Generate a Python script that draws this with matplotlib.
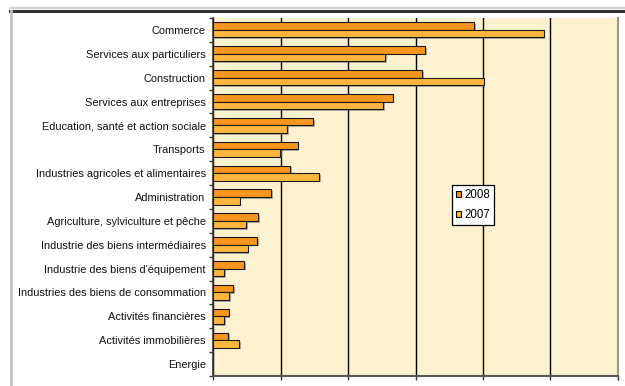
import matplotlib
matplotlib.use("Agg")
import matplotlib.pyplot as plt
import matplotlib.patheffects as pe
from matplotlib.lines import Line2D
import numpy as np

plt.rcParams['font.family'] = ['Liberation Sans', 'DejaVu Sans']

categories = [
    "Commerce",
    "Services aux particuliers",
    "Construction",
    "Services aux entreprises",
    "Education, santé et action sociale",
    "Transports",
    "Industries agricoles et alimentaires",
    "Administration",
    "Agriculture, sylviculture et pêche",
    "Industrie des biens intermédiaires",
    "Industrie des biens d'équipement",
    "Industries des biens de consommation",
    "Activités financières",
    "Activités immobilières",
    "Energie",
]
values_2008 = [3.87, 3.14, 3.10, 2.66, 1.48, 1.25, 1.14, 0.86, 0.67, 0.65, 0.46, 0.29, 0.23, 0.22, 0.0]
values_2007 = [4.90, 2.55, 4.01, 2.52, 1.10, 0.99, 1.57, 0.39, 0.49, 0.51, 0.16, 0.24, 0.16, 0.38, 0.0]
series_labels = ["2008", "2007"]
x_grid = [0, 1, 2, 3, 4, 5, 6]

color_2008 = "#F7961E"
color_2007 = "#FDB73F"
plot_bg = "#FDF2CF"

W, H = 625, 386
fig = plt.figure(figsize=(W / 100, H / 100), dpi=100)
fig.patch.set_facecolor("white")

# outer frame of the chart block
fig.add_artist(Line2D([10 / W, 1], [1 - 7.5 / H] * 2, color="#d0d0d0", lw=1.5))
fig.add_artist(Line2D([10 / W, 1], [1 - 10.8 / H] * 2, color="#333333", lw=2.2))
fig.add_artist(Line2D([10.5 / W] * 2, [0, 1 - 10.8 / H], color="#c4c4c4", lw=2.0))

ax = fig.add_axes([213.3 / W, 1 - 376 / H, (617.7 - 213.3) / W, (376 - 18) / H])
ax.set_facecolor(plot_bg)

n = len(categories)
y = np.arange(n)
bh = 0.315
shadow = [pe.SimplePatchShadow(offset=(1.2, -1.2), shadow_rgbFace="#7a7a7a", alpha=0.6), pe.Normal()]
b1 = ax.barh(y - bh / 2, values_2008, height=bh, color=color_2008,
             edgecolor="#1a1a1a", linewidth=0.8, label=series_labels[0], zorder=3)
b2 = ax.barh(y + bh / 2, values_2007, height=bh, color=color_2007,
             edgecolor="#1a1a1a", linewidth=0.8, label=series_labels[1], zorder=3)
for bars, vals in ((b1, values_2008), (b2, values_2007)):
    for p, v in zip(bars, vals):
        p.set_path_effects(shadow)
        if v == 0:
            p.set_visible(False)

ax.set_ylim(n - 0.5, -0.5)
ax.set_xlim(x_grid[0], x_grid[-1])

# vertical gridlines
ax.set_xticks(x_grid)
ax.set_xticklabels([])
ax.xaxis.grid(True, color="black", lw=1.0, zorder=1)
ax.tick_params(axis="x", direction="out", length=3, width=1, color="#333333")

# category boundaries as ticks, names centred between them
ax.set_yticks(np.arange(n + 1) - 0.5)
ax.set_yticklabels([])
ax.tick_params(axis="y", which="major", direction="out", length=3, width=1, color="#333333")
ax.set_yticks(y, minor=True)
ax.set_yticklabels(categories, minor=True, fontsize=7.95, color="#111111")
ax.tick_params(axis="y", which="minor", length=0, pad=5.5)

ax.spines["top"].set_visible(False)
ax.spines["left"].set_color("#333333")
ax.spines["left"].set_linewidth(1.2)
ax.spines["bottom"].set_color("#555555")
ax.spines["bottom"].set_linewidth(1.5)
ax.spines["right"].set_color("#999999")
ax.spines["right"].set_linewidth(1.5)

leg = fig.legend(handles=[b1, b2], labels=series_labels, loc="upper left",
                 bbox_to_anchor=(451.7 / W, 1 - 185 / H), fontsize=8.3,
                 frameon=True, fancybox=False, handlelength=0.45, handleheight=0.45,
                 handletextpad=0.3, labelspacing=0.7, borderpad=0.35, borderaxespad=0)
leg.get_frame().set_edgecolor("black")
leg.get_frame().set_linewidth(0.9)
leg.get_frame().set_facecolor("white")
leg.get_frame().set_alpha(1)
leg.set_path_effects([pe.SimplePatchShadow(offset=(1.5, -1.5), shadow_rgbFace="#555555", alpha=0.7), pe.Normal()])
for h in leg.legend_handles:
    h.set_path_effects([])
    h.set_edgecolor("black")
    h.set_linewidth(0.8)

fig.savefig("out.png", dpi=100)
